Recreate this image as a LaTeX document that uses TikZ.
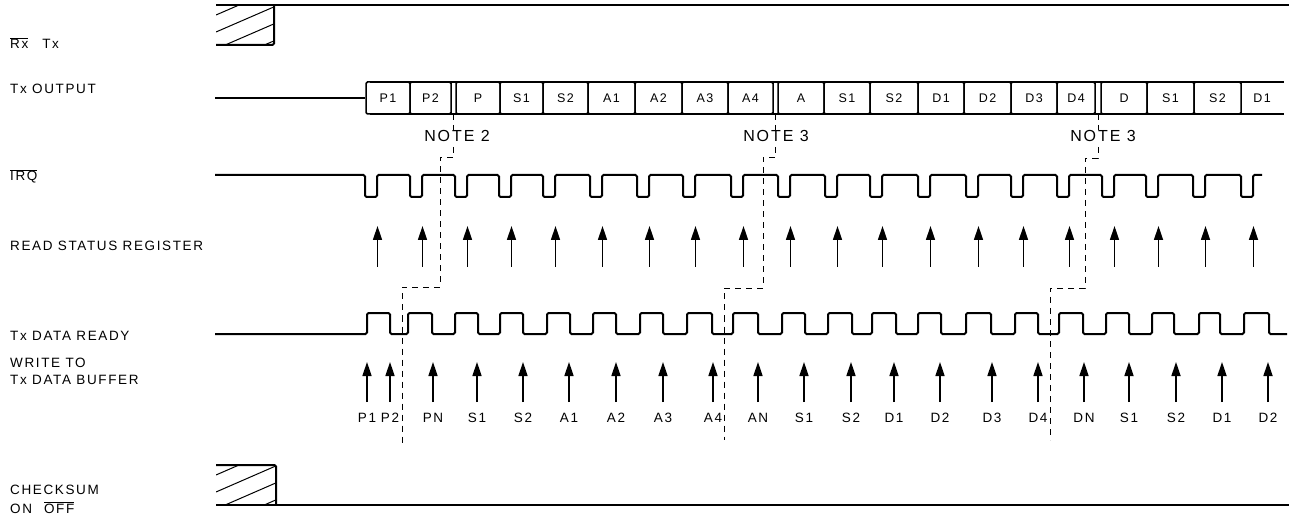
\documentclass[tikz,border=0pt]{standalone}
\usepackage{fontspec}
\setmainfont{Liberation Sans}[LetterSpace=12]
\usetikzlibrary{arrows.meta}
\begin{document}
\begin{tikzpicture}[x=1pt,y=-1pt,
  sig/.style={line width=2pt, rounded corners=1.5pt},
  busline/.style={line width=1.5pt},
  busbox/.style={draw, line width=1.5pt, rounded corners=1.5pt, minimum height=32pt, inner sep=0pt, font=\fontsize{12.5}{13}\selectfont},
  uparrow/.style={line width=1.6pt, -{Triangle[length=14pt,width=9pt]}},
  notedash/.style={line width=0.9pt, dash pattern=on 6pt off 5pt},
  notelbl/.style={fill=white, inner sep=1pt, anchor=base, font=\fontsize{16}{18}\selectfont},
  lbl/.style={anchor=base west, inner sep=0pt, font=\fontsize{13.5}{15}\selectfont},
  wlbl/.style={anchor=base, inner sep=0pt, font=\fontsize{13.5}{15}\selectfont},
  hatchline/.style={line width=1pt}]
\useasboundingbox (0,0) rectangle (1289,526);

% ---------- left labels ----------
\node[lbl] (lrx) at (10,49) {$\overline{\mbox{Rx}}$\hspace{14pt}Tx};
\node[lbl] (ltx) at (10,94) {Tx OUTPUT};
\node[lbl] (lirq) at (10,181) {$\overline{\mbox{IRQ}}$};
\node[lbl] (lrsr) at (10,251) {READ STATUS REGISTER};
\node[lbl] (ltdr) at (10,340) {Tx DATA READY};
\node[lbl] (lwr1) at (10,367) {WRITE TO};
\node[lbl] (lwr2) at (10,384) {Tx DATA BUFFER};
\node[lbl] (lck1) at (10,494) {CHECKSUM};
\node[lbl] (lck2) at (10,513) {ON\hspace{12pt}$\overline{\mbox{OFF}}$};

% ---------- Rx / Tx ----------
\begin{scope}
  \clip (216,5) rectangle (274,45);
  \foreach \y in {15,32,49,66} \draw[hatchline] (216,\y) -- ++(60,-26);
\end{scope}
\draw[sig] (216,5) -- (1289,5);
\draw[sig] (216,45) -- (274,45) -- (274,5);

% ---------- Tx OUTPUT bus ----------
\foreach \l/\r/\t [count=\i] in {366/410/P1, 410/451/P2, 456/500/P, 500/543/S1, 543/588/S2, 588/635/A1, 635/682/A2, 682/728/A3, 728/773/A4, 778/824/A, 824/870/S1, 870/918/S2, 918/964/D1, 964/1011/D2, 1011/1057/D3, 1057/1095/D4, 1101/1147/D, 1147/1194/S1, 1194/1241/S2}
  \node[busbox, minimum width=\r-\l] (b\i) at ({(\l+\r)/2},98) {\t};
\node[busbox, draw=none] (b20) at (1262,98) {D1};
\draw[busline] (370,82) -- (1284,82);
\draw[busline] (370,114) -- (1284,114);
\draw[busline] (215,98) -- (b1.west);

% ---------- notes (dashed) ----------
\coordinate (n2a) at (453.5,114);
\coordinate (n2b) at (402,443);
\coordinate (n3a) at (775.5,114);
\coordinate (n3b) at (724,440);
\coordinate (n4a) at (1098,114);
\coordinate (n4b) at (1050,440);
\draw[notedash] (n2a) |- (440,157) |- (402,287) -- (n2b);
\draw[notedash] (n3a) |- (763,157) |- (724,288) -- (n3b);
\draw[notedash] (n4a) |- (1085,158) |- (1050,288) -- (n4b);
\node[notelbl] (note2) at (457,142) {NOTE 2};
\node[notelbl] (note3a) at (776,142) {NOTE 3};
\node[notelbl] (note3b) at (1103,142) {NOTE 3};

% ---------- IRQ ----------
\draw[sig] (215,175)
  \foreach \l in {365,410,455,499,543,590,637,683,731,778,825,870,918,966,1011,1057,1102,1146,1193,1241}
    { -- (\l,175) -- (\l,197) -- (\l+12,197) -- (\l+12,175) }
  -- (1262,175);

% ---------- READ STATUS REGISTER arrows ----------
\foreach \l in {365,410,455,499,543,590,637,683,731,778,825,870,918,966,1011,1057,1102,1146,1193,1241}
  \draw[uparrow] (\l+12.5,267) -- (\l+12.5,226);

% ---------- Tx DATA READY ----------
\draw[sig] (215,334)
  \foreach \r/\f in {367/390,408/432,455/478,500/523,547/570,593/616,640/663,687/712,733/758,782/805,828/852,872/896,918/941,966/991,1015/1038,1059/1083,1106/1129,1152/1174,1199/1220,1244/1269}
    { -- (\r,334) -- (\r,313) -- (\f,313) -- (\f,334) }
  -- (1287,334);

% ---------- WRITE TO Tx DATA BUFFER arrows ----------
\foreach \x/\t [count=\i] in {367/P1, 390/P2, 433/PN, 477/S1, 523/S2, 569/A1, 616/A2, 663/A3, 713/A4, 758/AN, 804/S1, 851/S2, 894/D1, 940/D2, 992/D3, 1038/D4, 1084/DN, 1129/S1, 1176/S2, 1222/D1, 1268/D2}
{
  \node[wlbl] (w\i) at (\x,422) {\t};
  \draw[uparrow] (\x,402) -- (\x,362);
}

% ---------- CHECKSUM ----------
\begin{scope}
  \clip (216,465) rectangle (276,505);
  \foreach \y in {475,492,509,526} \draw[hatchline] (216,\y) -- ++(62,-27);
\end{scope}
\draw[sig] (216,465) -- (276,465) -- (276,505);
\draw[sig] (216,505) -- (1289,505);
\end{tikzpicture}
\end{document}
